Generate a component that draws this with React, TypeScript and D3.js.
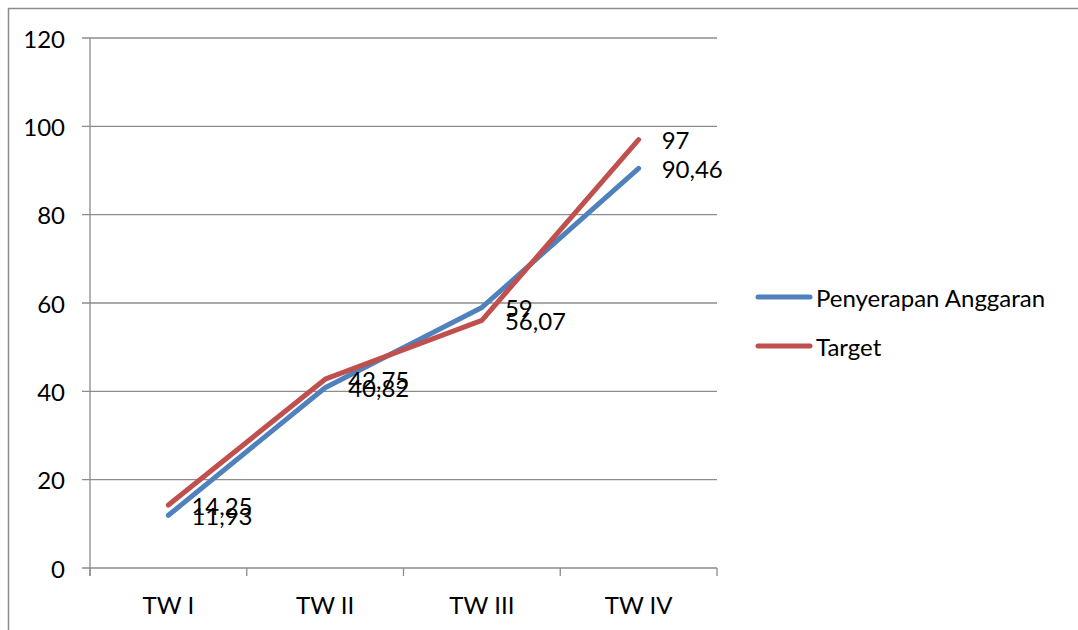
import * as d3 from "d3";
import { useEffect, useRef } from "react";

const categories = ["TW I", "TW II", "TW III", "TW IV"];
const penyerapan = [11.93, 40.82, 59, 90.46];
const target = [14.25, 42.75, 56.07, 97];
const penyerapanLabels = ["11,93", "40,82", "59", "90,46"];
const targetLabels = ["14,25", "42,75", "56,07", "97"];
const yTicks = [0, 20, 40, 60, 80, 100, 120];

const FONT = "Lato, 'Open Sans', sans-serif";
const FS = 24;

const App = () => {
  const svgRef = useRef<SVGSVGElement>(null);

  useEffect(() => {
    if (!svgRef.current) return;
    const svg = d3.select(svgRef.current);
    svg.selectAll("*").remove();

    const plot = { left: 90, right: 717, top: 38, bottom: 568 };

    // outer frame (top and left edges only)
    svg.append("line").attr("x1", 8).attr("y1", 8.5).attr("x2", 1078).attr("y2", 8.5)
      .attr("stroke", "#8c8c8c").attr("stroke-width", 1.5);
    svg.append("line").attr("x1", 8.5).attr("y1", 8).attr("x2", 8.5).attr("y2", 630)
      .attr("stroke", "#8c8c8c").attr("stroke-width", 1.5);

    const x = d3.scaleBand().domain(categories).range([plot.left, plot.right]);
    const y = d3.scaleLinear().domain([0, 120]).range([plot.bottom, plot.top]);

    // gridlines + y ticks
    yTicks.forEach(t => {
      svg.append("line")
        .attr("x1", plot.left - 8).attr("x2", plot.right)
        .attr("y1", y(t)).attr("y2", y(t))
        .attr("stroke", "#8c8c8c").attr("stroke-width", 1.3);
      svg.append("text")
        .attr("x", 65).attr("y", y(t))
        .attr("text-anchor", "end").attr("dominant-baseline", "central")
        .attr("font-family", FONT).attr("font-size", FS).attr("fill", "#000")
        .text(t);
    });

    // y axis
    svg.append("line")
      .attr("x1", plot.left).attr("x2", plot.left)
      .attr("y1", plot.top).attr("y2", plot.bottom + 8)
      .attr("stroke", "#8c8c8c").attr("stroke-width", 1.3);

    // x tick marks at category boundaries
    const bounds = categories.map(c => x(c)!).concat([plot.right]);
    bounds.forEach(b => {
      svg.append("line")
        .attr("x1", b).attr("x2", b)
        .attr("y1", plot.bottom).attr("y2", plot.bottom + 8)
        .attr("stroke", "#8c8c8c").attr("stroke-width", 1.3);
    });

    // x labels
    categories.forEach(c => {
      svg.append("text")
        .attr("x", x(c)! + x.bandwidth() / 2).attr("y", 604)
        .attr("text-anchor", "middle").attr("dominant-baseline", "central")
        .attr("font-family", FONT).attr("font-size", FS).attr("fill", "#000")
        .text(c);
    });

    const cx = (i: number) => x(categories[i])! + x.bandwidth() / 2;
    const line = d3.line<number>().x((_, i) => cx(i)).y(d => y(d));

    const series = [
      { name: "Penyerapan Anggaran", values: penyerapan, labels: penyerapanLabels, color: "#4F81BD" },
      { name: "Target", values: target, labels: targetLabels, color: "#C0504D" },
    ];

    series.forEach(s => {
      svg.append("path")
        .datum(s.values)
        .attr("d", line)
        .attr("fill", "none")
        .attr("stroke", s.color)
        .attr("stroke-width", 5)
        .attr("stroke-linejoin", "round")
        .attr("stroke-linecap", "round");
    });

    series.forEach(s => {
      s.values.forEach((v, i) => {
        svg.append("text")
          .attr("x", cx(i) + 23).attr("y", y(v))
          .attr("dominant-baseline", "central")
          .attr("font-family", FONT).attr("font-size", FS).attr("fill", "#000")
          .text(s.labels[i]);
      });
    });

    // legend
    series.forEach((s, i) => {
      const ly = 297 + i * 49;
      svg.append("line")
        .attr("x1", 758).attr("x2", 810).attr("y1", ly).attr("y2", ly)
        .attr("stroke", s.color).attr("stroke-width", 5).attr("stroke-linecap", "round");
      svg.append("text")
        .attr("x", 816).attr("y", ly)
        .attr("dominant-baseline", "central")
        .attr("font-family", FONT).attr("font-size", FS).attr("fill", "#000")
        .text(s.name);
    });
  }, []);

  return (
    <svg
      ref={svgRef}
      width={1078}
      height={630}
      style={{ position: "absolute", left: 0, top: 0, background: "#fff" }}
    />
  );
};

export default App;
